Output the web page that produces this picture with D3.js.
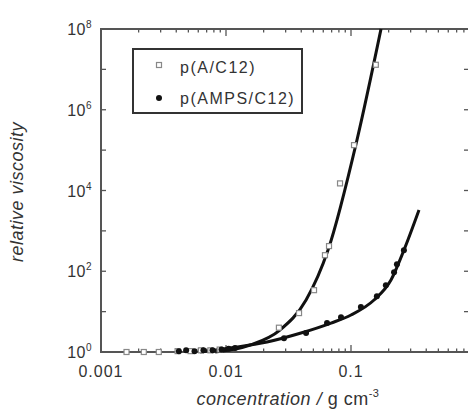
<!DOCTYPE html>
<html>
<head>
<meta charset="utf-8">
<script src="https://cdn.jsdelivr.net/npm/d3@7"></script>
<style>
  body { margin: 0; background: #fff; }
  svg { display: block; font-family: "Liberation Sans", Arial, sans-serif; }
</style>
</head>
<body>
<div id="chart"></div>
<script>
// p(A/C12), open squares: [concentration g/cm3, relative viscosity]
var aPoints = [
    [0.0016, 1.0], [0.0022, 1.0], [0.0029, 1.0], [0.0041, 1.05], [0.0052, 1.05],
    [0.0063, 1.1], [0.0075, 1.1], [0.0089, 1.15], [0.0265, 4.0], [0.0384, 9.2],
    [0.0506, 34], [0.0619, 250], [0.0667, 420], [0.0817, 1.5e4], [0.1057, 1.33e5],
    [0.158, 1.3e7]
];
// p(AMPS/C12), filled circles
var bPoints = [
    [0.0042, 1.05], [0.0048, 1.1], [0.0056, 1.05], [0.0066, 1.1], [0.0078, 1.1],
    [0.0092, 1.15], [0.0105, 1.2], [0.0118, 1.25], [0.0291, 2.2], [0.0437, 2.95],
    [0.0643, 5.2], [0.0832, 7.3], [0.120, 13], [0.161, 24], [0.19, 45],
    [0.221, 95], [0.233, 150], [0.265, 330]
];
// fitted curves
var aCurve = [
    [0.0082, 1.0], [0.0156, 1.49], [0.0270, 3.5], [0.0437, 19.4], [0.0655, 336],
    [0.1117, 1.8e5], [0.1738, 1e8]
];
var bCurve = [
    [0.0062, 1.0], [0.0108, 1.26], [0.0213, 1.77], [0.0398, 2.95], [0.0692, 5.2],
    [0.1, 8.25], [0.1528, 19.4], [0.2089, 60.7], [0.2655, 336], [0.35, 3290]
];

var xLabels = [[0.001, "0.001"], [0.01, "0.01"], [0.1, "0.1"]];
var yLabels = [[1, "0"], [1e2, "2"], [1e4, "4"], [1e6, "6"], [1e8, "8"]];
var legendNames = ["p(A/C12)", "p(AMPS/C12)"];

var width = 468, height = 414;
var textColor = "#333", axisColor = "#555";

var svg = d3.select("#chart").append("svg")
    .attr("width", width)
    .attr("height", height);

var x = d3.scaleLog().domain([0.001, 1]).range([101, 476]);
var y = d3.scaleLog().domain([1, 1e8]).range([352, 29]);

// minor and major ticks
var xMajor = [0.001, 0.01, 0.1, 1];
var xMinor = [];
[0.001, 0.01, 0.1].forEach(function (d) {
    for (var k = 2; k <= 9; k++) xMinor.push(d * k);
});
var yTicks = d3.range(0, 9).map(function (p) { return Math.pow(10, p); });

var ax = svg.append("g").attr("stroke", axisColor).attr("fill", "none");

ax.append("rect")
    .attr("x", x.range()[0])
    .attr("y", y.range()[1])
    .attr("width", x.range()[1] - x.range()[0])
    .attr("height", y.range()[0] - y.range()[1])
    .attr("stroke-width", 2);

function xTick(v, len) {
    ax.append("line").attr("x1", x(v)).attr("x2", x(v))
        .attr("y1", y(1)).attr("y2", y(1) - len).attr("stroke-width", 1.3);
    ax.append("line").attr("x1", x(v)).attr("x2", x(v))
        .attr("y1", y(1e8)).attr("y2", y(1e8) + len).attr("stroke-width", 1.3);
}
xMajor.forEach(function (v) { xTick(v, 7); });
xMinor.forEach(function (v) { xTick(v, 3.5); });

yTicks.forEach(function (v) {
    ax.append("line").attr("x1", x(0.001)).attr("x2", x(0.001) + 5)
        .attr("y1", y(v)).attr("y2", y(v)).attr("stroke-width", 1.3);
    ax.append("line").attr("x1", x(1)).attr("x2", x(1) - 12)
        .attr("y1", y(v)).attr("y2", y(v)).attr("stroke-width", 1.3);
});

// tick labels
svg.append("g").selectAll("text")
    .data(xLabels)
    .enter().append("text")
    .attr("x", function (d) { return x(d[0]); })
    .attr("y", 377)
    .attr("text-anchor", "middle")
    .attr("font-size", 16)
    .attr("letter-spacing", 1)
    .attr("fill", textColor)
    .text(function (d) { return d[1]; });

var yl = svg.append("g").selectAll("text")
    .data(yLabels)
    .enter().append("text")
    .attr("x", 92)
    .attr("y", function (d) { return y(d[0]) + 6; })
    .attr("text-anchor", "end")
    .attr("font-size", 16)
    .attr("letter-spacing", 0.5)
    .attr("fill", textColor);
yl.append("tspan").text("10");
yl.append("tspan").attr("dy", -7).attr("font-size", 10)
    .text(function (d) { return d[1]; });

// axis titles
svg.append("text")
    .attr("transform", "translate(23,192) rotate(-90)")
    .attr("text-anchor", "middle")
    .attr("font-size", 18)
    .attr("font-style", "italic")
    .attr("letter-spacing", 0.5)
    .attr("fill", textColor)
    .text("relative viscosity");

var xt = svg.append("text")
    .attr("x", 288)
    .attr("y", 405)
    .attr("text-anchor", "middle")
    .attr("font-size", 18)
    .attr("font-style", "italic")
    .attr("letter-spacing", 0.5)
    .attr("fill", textColor);
xt.append("tspan").text("concentration / ");
xt.append("tspan").attr("font-style", "normal").text("g cm");
xt.append("tspan").attr("font-style", "normal").attr("dy", -8).attr("font-size", 11).text("-3");

// curves
var line = d3.line()
    .x(function (d) { return x(d[0]); })
    .y(function (d) { return y(d[1]); })
    .curve(d3.curveMonotoneX);

var plot = svg.append("g");
[aCurve, bCurve].forEach(function (c) {
    plot.append("path")
        .datum(c)
        .attr("d", line)
        .attr("fill", "none")
        .attr("stroke", "#111")
        .attr("stroke-width", 3);
});

// markers
plot.selectAll(".sq")
    .data(aPoints)
    .enter().append("rect")
    .attr("class", "sq")
    .attr("x", function (d) { return x(d[0]) - 2.5; })
    .attr("y", function (d) { return y(d[1]) - 2.5; })
    .attr("width", 5)
    .attr("height", 5)
    .attr("fill", "#fff")
    .attr("stroke", "#888")
    .attr("stroke-width", 1.2);

plot.selectAll(".dot")
    .data(bPoints)
    .enter().append("circle")
    .attr("class", "dot")
    .attr("cx", function (d) { return x(d[0]); })
    .attr("cy", function (d) { return y(d[1]); })
    .attr("r", 3)
    .attr("fill", "#111");

// legend
var lg = svg.append("g");
lg.append("rect")
    .attr("x", 133).attr("y", 49)
    .attr("width", 169).attr("height", 64)
    .attr("fill", "#fff")
    .attr("stroke", "#333")
    .attr("stroke-width", 2);
lg.append("rect")
    .attr("x", 156.5).attr("y", 62.5)
    .attr("width", 5).attr("height", 5)
    .attr("fill", "#fff").attr("stroke", "#888").attr("stroke-width", 1.2);
lg.append("circle")
    .attr("cx", 159).attr("cy", 98).attr("r", 3).attr("fill", "#111");
lg.selectAll("text")
    .data(legendNames)
    .enter().append("text")
    .attr("x", 180)
    .attr("y", function (d, i) { return 73 + i * 31; })
    .attr("font-size", 16)
    .attr("letter-spacing", 1.5)
    .attr("fill", textColor)
    .text(function (d) { return d; });
</script>
</body>
</html>
